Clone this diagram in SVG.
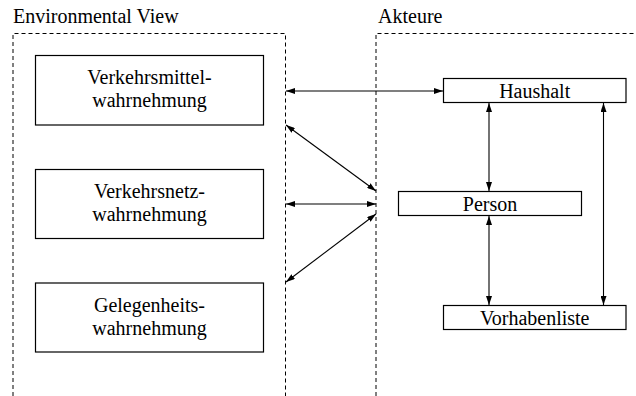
<svg xmlns="http://www.w3.org/2000/svg" width="636" height="396" viewBox="0 0 636 396">
  <defs>
    <marker id="head" viewBox="0 0 9 6" refX="9" refY="3" markerWidth="9" markerHeight="6" markerUnits="userSpaceOnUse" orient="auto-start-reverse">
      <path d="M0,0 L9,3 L0,6 z" fill="#000"/>
    </marker>
  </defs>
  <rect width="636" height="396" fill="#fff"/>

  <!-- dashed group frames (open at the bottom) -->
  <g id="environmental-view">
    <path d="M13,396 V33.5 H285.5 V396" fill="none" stroke="#000" stroke-width="1" stroke-dasharray="4 3"/>
    <text x="13" y="23" font-family="Liberation Serif" font-size="20">Environmental View</text>
  </g>
  <g id="akteure">
    <path d="M376,396 V33.5 H636" fill="none" stroke="#000" stroke-width="1" stroke-dasharray="4 3"/>
    <text x="378" y="23" font-family="Liberation Serif" font-size="20">Akteure</text>
  </g>

  <!-- perception nodes -->
  <g id="verkehrsmittelwahrnehmung">
    <rect x="35.5" y="55.5" width="228" height="69.5" fill="#fff" stroke="#000" stroke-width="1.2"/>
    <text x="149.5" y="84" font-family="Liberation Serif" font-size="20" text-anchor="middle">Verkehrsmittel-</text>
    <text x="149.5" y="107" font-family="Liberation Serif" font-size="20" text-anchor="middle">wahrnehmung</text>
  </g>
  <g id="verkehrsnetzwahrnehmung">
    <rect x="35.5" y="169.5" width="228" height="69" fill="#fff" stroke="#000" stroke-width="1.2"/>
    <text x="149.5" y="198" font-family="Liberation Serif" font-size="20" text-anchor="middle">Verkehrsnetz-</text>
    <text x="149.5" y="221" font-family="Liberation Serif" font-size="20" text-anchor="middle">wahrnehmung</text>
  </g>
  <g id="gelegenheitswahrnehmung">
    <rect x="35.5" y="283" width="228" height="69" fill="#fff" stroke="#000" stroke-width="1.2"/>
    <text x="149.5" y="312" font-family="Liberation Serif" font-size="20" text-anchor="middle">Gelegenheits-</text>
    <text x="149.5" y="335" font-family="Liberation Serif" font-size="20" text-anchor="middle">wahrnehmung</text>
  </g>

  <!-- actor nodes -->
  <g id="haushalt">
    <rect x="443.5" y="78.5" width="182.5" height="24" fill="#fff" stroke="#000" stroke-width="1.2"/>
    <text x="534.7" y="97.5" font-family="Liberation Serif" font-size="20" text-anchor="middle">Haushalt</text>
  </g>
  <g id="person">
    <rect x="398.5" y="191.5" width="183" height="24" fill="#fff" stroke="#000" stroke-width="1.2"/>
    <text x="490" y="210.5" font-family="Liberation Serif" font-size="20" text-anchor="middle">Person</text>
  </g>
  <g id="vorhabenliste">
    <rect x="443.5" y="305.5" width="182.5" height="24" fill="#fff" stroke="#000" stroke-width="1.2"/>
    <text x="534.7" y="324.5" font-family="Liberation Serif" font-size="20" text-anchor="middle">Vorhabenliste</text>
  </g>

  <!-- connectors: double-headed arrows -->
  <g id="connectors" stroke="#000" stroke-width="1.1" fill="none" marker-start="url(#head)" marker-end="url(#head)">
    <line x1="286" y1="91" x2="443" y2="91"/>
    <line x1="286" y1="125" x2="376" y2="191"/>
    <line x1="286" y1="204" x2="376" y2="204"/>
    <line x1="376" y1="214" x2="286" y2="282"/>
    <line x1="489" y1="103" x2="489" y2="191"/>
    <line x1="489" y1="216" x2="489" y2="305"/>
    <line x1="603.5" y1="103" x2="603.5" y2="305"/>
  </g>
</svg>
